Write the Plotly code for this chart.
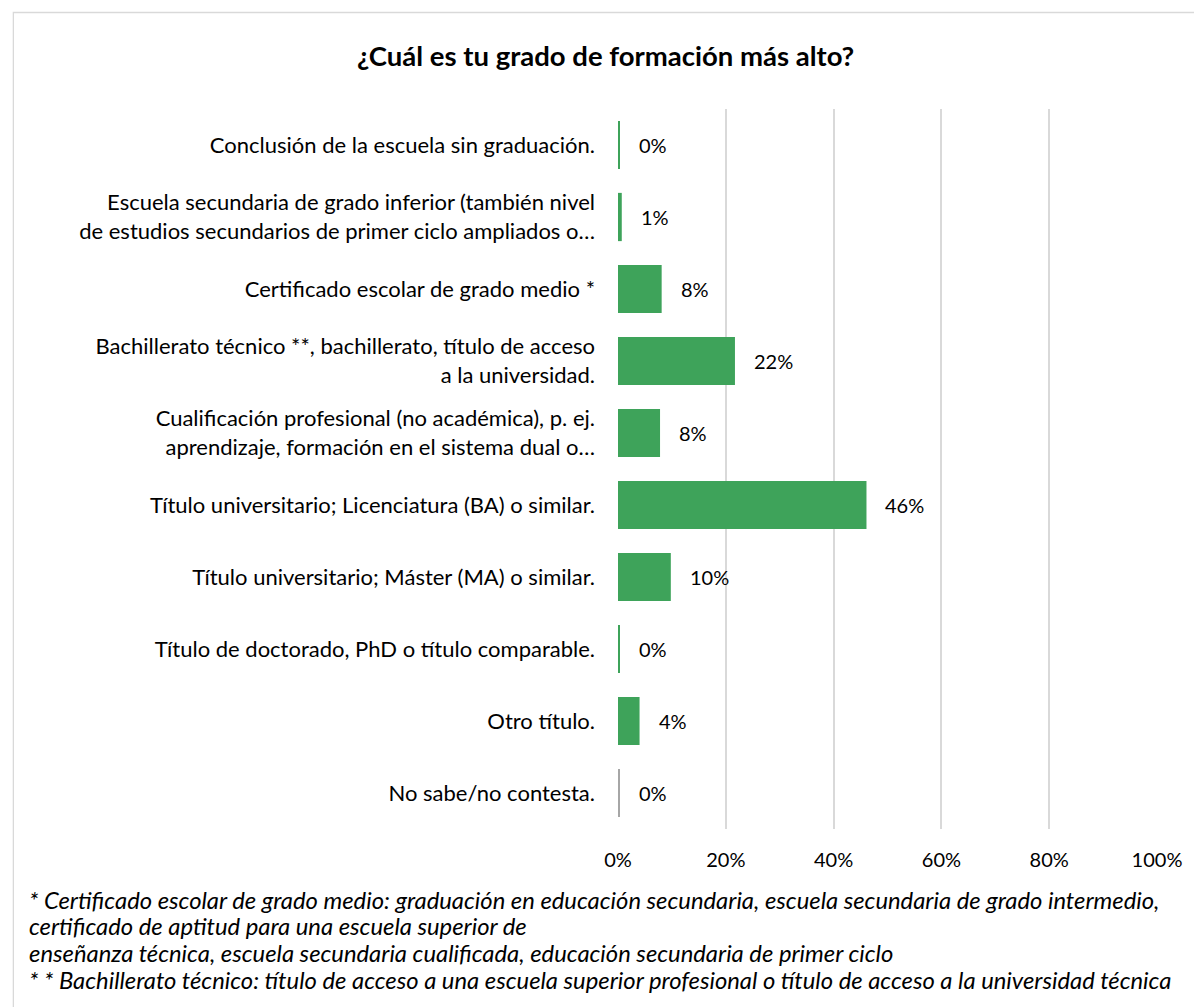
import plotly.graph_objects as go

categories = [
    "Conclusión de la escuela sin graduación.",
    "Escuela secundaria de grado inferior (también nivel<br>de estudios secundarios de primer ciclo ampliados o…",
    "Certificado escolar de grado medio *",
    "Bachillerato técnico **, bachillerato, título de acceso<br>a la universidad.",
    "Cualificación profesional (no académica), p. ej.<br>aprendizaje, formación en el sistema dual o…",
    "Título universitario; Licenciatura (BA) o similar.",
    "Título universitario; Máster (MA) o similar.",
    "Título de doctorado, PhD o título comparable.",
    "Otro título.",
    "No sabe/no contesta.",
]
values = [0.003, 0.007, 0.081, 0.217, 0.078, 0.461, 0.098, 0.003, 0.040, 0.003]
value_labels = ["0%", "1%", "8%", "22%", "8%", "46%", "10%", "0%", "4%", "0%"]
bar_colors = ["#3EA35A"] * 9 + ["#A6A6A6"]
tick_vals = [0, 0.2, 0.4, 0.6, 0.8, 1.0]
tick_text = ["0%", "20%", "40%", "60%", "80%", "100%"]
title_text = "¿Cuál es tu grado de formación más alto?"
footnotes = [
    "* Certificado escolar de grado medio: graduación en educación secundaria, escuela secundaria de grado intermedio,",
    "certificado de aptitud para una escuela superior de",
    "enseñanza técnica, escuela secundaria cualificada, educación secundaria de primer ciclo",
    "* * Bachillerato técnico: título de acceso a una escuela superior profesional o título de acceso a la universidad técnica",
]

W, H = 1194, 1007
L, R, T, B = 618, 30, 109, 178
pw, ph = W - L - R, H - T - B

def px_x(px):
    return (px - L) / pw

def px_y(py):
    return (H - B - py) / ph

FONT = "Lato, Calibri, Carlito, sans-serif"

fig = go.Figure()
fig.add_trace(go.Bar(
    y=categories, x=values, orientation="h",
    marker=dict(color=bar_colors, line=dict(width=0)),
    hoverinfo="skip",
))

annotations = []
for cat, v, lab in zip(categories, values, value_labels):
    annotations.append(dict(
        x=v, y=cat, xref="x", yref="y", text=lab, showarrow=False,
        xanchor="left", yanchor="middle", xshift=17,
        font=dict(family=FONT, size=20, color="#000000"),
    ))

foot_y = [900, 926, 953, 980]
for txt, fy in zip(footnotes, foot_y):
    annotations.append(dict(
        x=px_x(19), y=px_y(fy), xref="paper", yref="paper",
        text="<i>" + txt + "</i>", showarrow=False,
        xanchor="left", yanchor="middle",
        font=dict(family=FONT, size=23.8, color="#000000"),
    ))

annotations.append(dict(
    x=px_x(605), y=px_y(55), xref="paper", yref="paper",
    text="<b>" + title_text + "</b>", showarrow=False,
    xanchor="center", yanchor="middle",
    font=dict(family=FONT, size=27.5, color="#000000"),
))

fig.update_layout(
    width=W, height=H,
    margin=dict(l=L, r=R, t=T, b=B, pad=0),
    paper_bgcolor="#FFFFFF", plot_bgcolor="#FFFFFF",
    showlegend=False,
    bargap=0.33,
    annotations=annotations,
    shapes=[dict(
        type="rect", xref="paper", yref="paper",
        x0=px_x(5.5), x1=px_x(1210), y0=px_y(12.5), y1=px_y(1030),
        line=dict(color="#D9D9D9", width=1.3), fillcolor="rgba(0,0,0,0)", layer="below",
    )],
    xaxis=dict(
        range=[0, 1], tickvals=tick_vals, ticktext=tick_text,
        showgrid=True, gridcolor="#D9D9D9", gridwidth=1.5,
        zeroline=False, showline=False, ticks="", ticklabelstandoff=17,
        tickfont=dict(family=FONT, size=20, color="#000000"),
        fixedrange=True,
    ),
    yaxis=dict(
        autorange="reversed", showgrid=False, zeroline=False,
        showline=False, ticks="", ticklabelstandoff=22,
        tickfont=dict(family=FONT, size=22, color="#000000"),
        fixedrange=True,
    ),
)

fig.write_html(
    "out.html",
    config={"displayModeBar": False},
    post_script="document.body.style.margin='0';document.body.style.overflow='hidden';",
)
